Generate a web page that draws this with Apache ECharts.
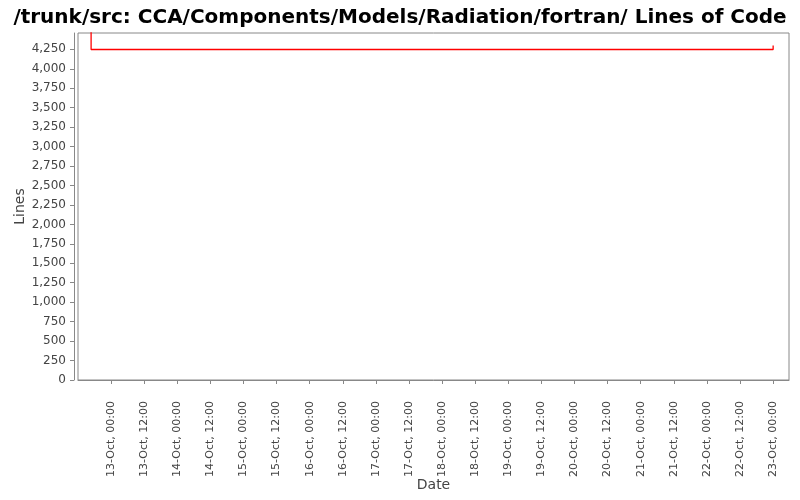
<!DOCTYPE html>
<html>
<head>
<meta charset="utf-8">
<script src="https://cdn.jsdelivr.net/npm/echarts@6/dist/echarts.min.js"></script>
<style>html,body{margin:0;padding:0;background:#fff}#c{width:800px;height:500px}</style>
</head>
<body>
<div id="c"></div>
<script>
var titleText = '/trunk/src: CCA/Components/Models/Radiation/fortran/ Lines of Code';
var dates = ['2011-10-12T06:00:00Z', '2011-10-12T16:45:00Z', '2011-10-23T00:00:00Z'];
var lines = [4600, 4248, 4300];
var tickDates = ['2011-10-13T00:00:00Z','2011-10-13T12:00:00Z','2011-10-14T00:00:00Z','2011-10-14T12:00:00Z',
  '2011-10-15T00:00:00Z','2011-10-15T12:00:00Z','2011-10-16T00:00:00Z','2011-10-16T12:00:00Z',
  '2011-10-17T00:00:00Z','2011-10-17T12:00:00Z','2011-10-18T00:00:00Z','2011-10-18T12:00:00Z',
  '2011-10-19T00:00:00Z','2011-10-19T12:00:00Z','2011-10-20T00:00:00Z','2011-10-20T12:00:00Z',
  '2011-10-21T00:00:00Z','2011-10-21T12:00:00Z','2011-10-22T00:00:00Z','2011-10-22T12:00:00Z',
  '2011-10-23T00:00:00Z'];
var xMin = '2011-10-12T12:00:00Z';
var xMax = '2011-10-23T05:45:00Z';
var yMax = 4460;

var months = ['Jan','Feb','Mar','Apr','May','Jun','Jul','Aug','Sep','Oct','Nov','Dec'];
function pad(n){return (n<10?'0':'')+n;}
function fmtDate(v){
  var d = new Date(v);
  return d.getUTCDate() + '-' + months[d.getUTCMonth()] + ', ' + pad(d.getUTCHours()) + ':' + pad(d.getUTCMinutes());
}
var data = dates.map(function(d,i){return [Date.parse(d), lines[i]];});
var ticks = tickDates.map(function(d){return Date.parse(d);});

var chart = echarts.init(document.getElementById('c'), null, {renderer:'canvas'});
chart.setOption({
  animation: false,
  backgroundColor: '#fff',
  title: {
    text: titleText, left: 'center', top: 3,
    textStyle: {fontFamily: 'DejaVu Sans', fontWeight: 'bold', fontSize: 20, color: '#000'}
  },
  grid: {left: 78, right: 11, top: 33, bottom: 120, show: true, borderColor: '#888', borderWidth: 1,
    backgroundColor: '#fff', containLabel: false, outerBoundsMode: 'none'},
  xAxis: {
    type: 'value',
    min: Date.parse(xMin), max: Date.parse(xMax),
    offset: 4,
    name: 'Date', nameLocation: 'middle', nameGap: 94, nameMoveOverlap: false,
    nameTextStyle: {fontFamily: 'DejaVu Sans', fontSize: 14, color: '#444'},
    axisLine: {show: true, lineStyle: {color: '#888'}},
    axisTick: {show: true, length: 4, lineStyle: {color: '#888'}, customValues: ticks},
    axisLabel: {rotate: 90, margin: 17, fontFamily: 'DejaVu Sans', fontSize: 11, color: '#444',
      customValues: ticks, formatter: function(v){return fmtDate(v);}},
    splitLine: {show: false}
  },
  yAxis: {
    type: 'value', min: 0, max: yMax, interval: 250,
    offset: 4,
    name: 'Lines', nameLocation: 'middle', nameGap: 47, nameRotate: 90, nameMoveOverlap: false,
    nameTextStyle: {fontFamily: 'DejaVu Sans', fontSize: 14, color: '#444'},
    axisLine: {show: true, lineStyle: {color: '#888'}},
    axisTick: {show: true, length: 4, lineStyle: {color: '#888'}},
    axisLabel: {margin: 8, fontFamily: 'DejaVu Sans', fontSize: 12, color: '#444', showMaxLabel: false,
      formatter: function(v){return v.toLocaleString('en-US');}},
    splitLine: {show: false}
  },
  series: [{
    type: 'line', step: 'end', data: data, showSymbol: false, clip: true,
    lineStyle: {color: '#ff0000', width: 1.3}, itemStyle: {color: '#ff0000'}
  }]
});
</script>
</body>
</html>
